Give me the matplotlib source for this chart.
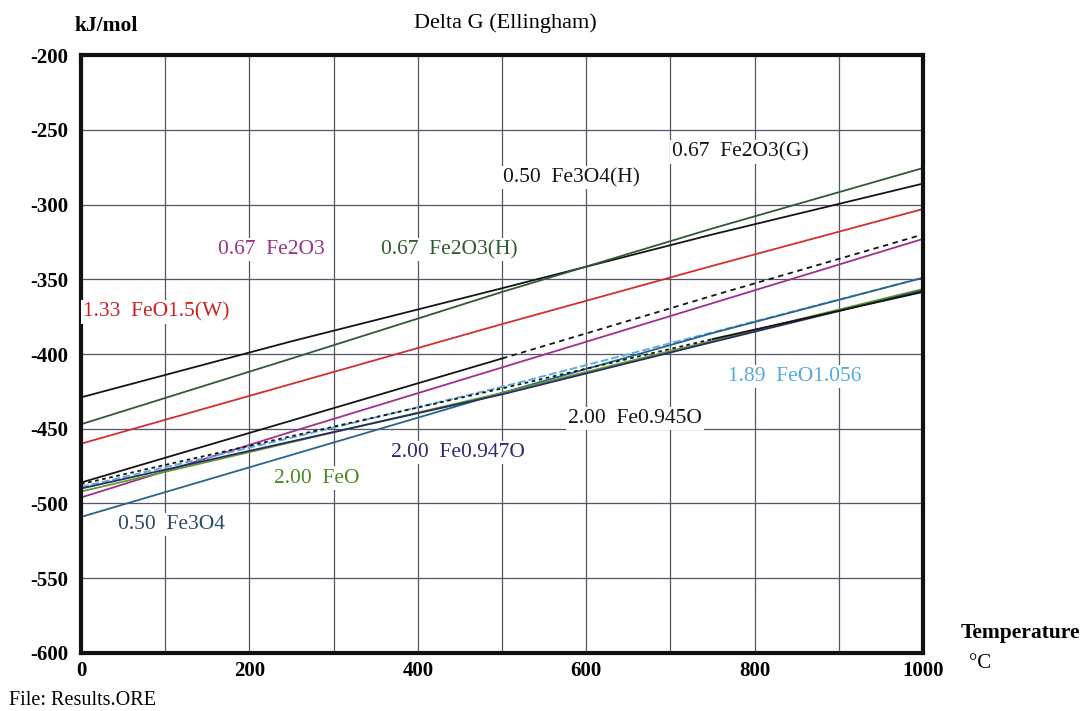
import matplotlib
matplotlib.use("Agg")
import matplotlib.pyplot as plt

# temperature grid (degC) and Delta G values (kJ/mol)
temps = [0, 250, 500, 750, 1000]

fe3o4_h = [-429, -391.5, -356, -320, -286]
fe2o3_h = [-447, -403, -358.5, -316, -275.6]
feo15_w = [-460, -420, -380, -341, -303]
fe2o3_g = [-486, -444.5, -403, -361, -320]
fe2o3 = [-496, -452, -409, -366, -323]
feo1056 = [-489, -456, -422, -385.5, -349]
fe3o4 = [-509, -467.5, -426, -386, -349]
feo = [-492, -459, -426, -391, -356.5]
fe0947o = [-490, -458.5, -427, -392, -357.5]
fe0945o = [-487, -455, -423, -390, -358.5]

names = ['0.50  Fe3O4(H)', '0.67  Fe2O3(H)', '1.33  FeO1.5(W)', '0.67  Fe2O3(G)',
         '0.67  Fe2O3', '1.89  FeO1.056', '0.50  Fe3O4', '2.00  FeO',
         '2.00  Fe0.947O', '2.00  Fe0.945O']
series = [fe3o4_h, fe2o3_h, feo15_w, fe2o3_g, fe2o3, feo1056, fe3o4, feo,
          fe0947o, fe0945o]

line_col = ['#151515', '#2f5a34', '#d03030', '#151515', '#a0308c', '#5aaee0',
            '#2b6488', '#5c9e28', '#2a2a6a', '#151515']
text_col = ['#151515', '#2e5e2e', '#cc2222', '#151515', '#993388', '#55aadd',
            '#2a4a6a', '#4a8a20', '#2a2a70', '#151515']
# label anchor (T, dG) for each name
lab_pos = [(501, -282), (356, -330), (2, -372), (702, -265), (163, -330),
           (768, -415), (44, -514), (229, -483), (368, -466), (578, -443)]

plt.rcParams['font.family'] = ['Liberation Serif', 'DejaVu Serif']
plt.rcParams['axes.unicode_minus'] = False

fig = plt.figure(figsize=(10.85, 7.11), dpi=100)
ax = fig.add_axes([0.0747, 0.0816, 0.776, 0.841])

for i, (vals, c) in enumerate(zip(series, line_col)):
    if names[i] == '0.67  Fe2O3(G)':
        ax.plot(temps[:3], vals[:3], color=c, lw=1.3)
        ax.plot(temps[2:], vals[2:], color=c, lw=1.3, ls=(0, (3, 2.5)))
    elif names[i] == '2.00  Fe0.945O':
        ax.plot(temps[:4], vals[:4], color=c, lw=1.3, ls=(0, (2, 2)))
        ax.plot(temps[3:], vals[3:], color=c, lw=1.3)
    elif names[i] == '1.89  FeO1.056':
        ax.plot(temps, vals, color=c, lw=1.4, ls=(0, (4, 1.5)))
    else:
        ax.plot(temps, vals, color=c, lw=1.3)

for n, (tx, ty), c in zip(names, lab_pos, text_col):
    ax.text(tx, ty, n, color=c, fontsize=15.5, va='center', ha='left',
            bbox=dict(facecolor='white', edgecolor='none', pad=1.5), zorder=5,
            clip_on=False)

ax.set_xlim(0, 1000)
ax.set_ylim(-600, -200)
ax.set_xticks(range(0, 1001, 100))
ax.set_xticklabels([str(t) if t % 200 == 0 else '' for t in range(0, 1001, 100)])
ax.set_yticks(range(-600, -199, 50))
ax.grid(True, color='#55556a', lw=0.9)
ax.set_axisbelow(True)
ax.tick_params(length=0, labelsize=15, pad=9)
ax.tick_params(axis='x', pad=6)
for lb in ax.get_xticklabels() + ax.get_yticklabels():
    lb.set_fontweight('bold')
for s in ax.spines.values():
    s.set_linewidth(3)
    s.set_color('#111111')

fig.text(0.069, 0.963, 'kJ/mol', fontsize=15.5, ha='left', va='center', weight='bold')
fig.text(0.466, 0.967, 'Delta G (Ellingham)', fontsize=16, ha='center', va='center')
fig.text(0.885, 0.110, 'Temperature', fontsize=15.5, ha='left', va='center', weight='bold')
fig.text(0.893, 0.067, '°C', fontsize=15, ha='left', va='center')
fig.text(0.008, 0.015, 'File: Results.ORE', fontsize=14.5, ha='left', va='center')

fig.savefig('out.png', dpi=100)
